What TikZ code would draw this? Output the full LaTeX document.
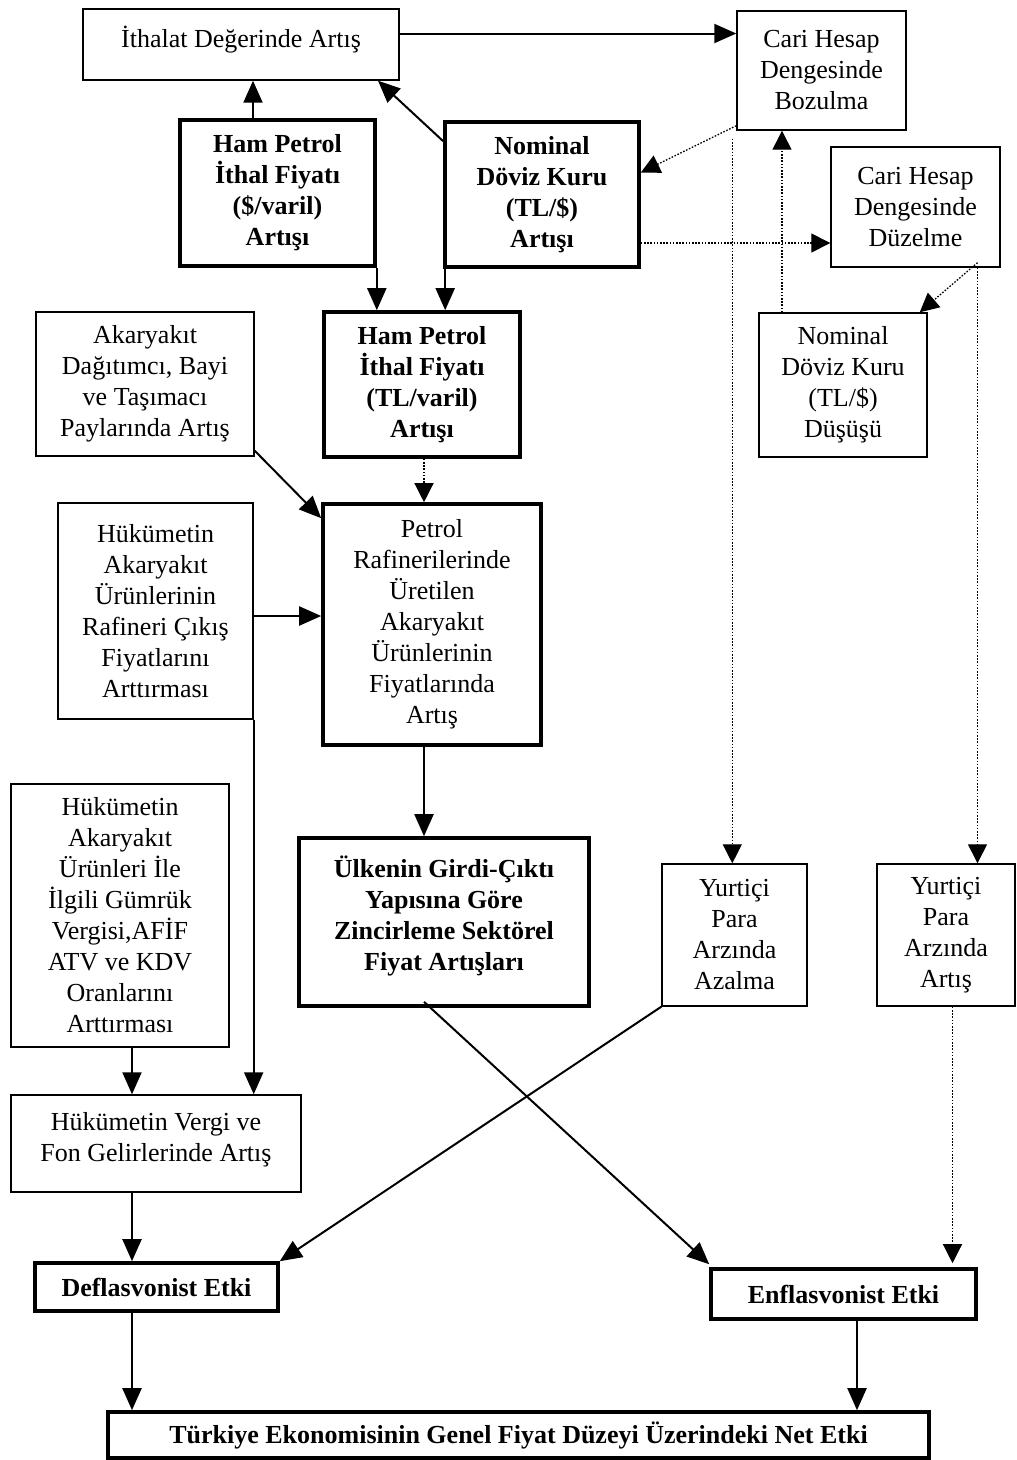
\documentclass[tikz,border=0pt]{standalone}
\usepackage{fontspec}
\setmainfont{Liberation Serif}
\usetikzlibrary{calc,arrows.meta,positioning}
\newcommand{\PicW}{1017}
\newcommand{\PicH}{1460}

\begin{document}
\begin{tikzpicture}[x=1pt,y=-1pt,
  box/.style={draw, line width=1.4pt, align=center, inner sep=2pt, font=\fontsize{26}{31}\selectfont},
  bbox/.style={box, line width=3.6pt, font=\fontsize{26}{31}\selectfont\bfseries},
  arr/.style={-{Triangle[length=22pt,width=19pt]}, line width=2pt},
  darr/.style={-{Triangle[length=19pt,width=19pt]}, line width=1.3pt, dash pattern=on 1.6pt off 1.6pt}
]
\useasboundingbox (0,0) rectangle (\PicW,\PicH);

% ----- Upper block -----
\node[box, minimum width=316, minimum height=71] (ithalat) at (241,44.5) {İthalat Değerinde Artış\\[-16pt]};
\node[box, minimum width=169, minimum height=119] (bozulma) at (821.5,70.5) {Cari Hesap\\Dengesinde\\Bozulma};
\node[bbox, minimum width=195, minimum height=146] (hamdolar) at (277.5,193) {Ham Petrol\\İthal Fiyatı\\(\$/varil)\\Artışı};
\node[bbox, minimum width=194, minimum height=145] (kurartis) at (542,194.5) {Nominal\\Döviz Kuru\\(TL/\$)\\Artışı};
\node[box, minimum width=169, minimum height=120] (duzelme) at (915.5,207) {Cari Hesap\\Dengesinde\\Düzelme};

% ----- Middle block -----
\node[box, minimum width=218, minimum height=144] (akaryakit) at (145,384) {Akaryakıt\\Dağıtımcı, Bayi\\ve Taşımacı\\Paylarında Artış};
\node[bbox, minimum width=196, minimum height=145] (hamtl) at (422,384.5) {Ham Petrol\\İthal Fiyatı\\(TL/varil)\\Artışı};
\node[box, minimum width=168, minimum height=144] (kurdusus) at (843,385) {Nominal\\Döviz Kuru\\(TL/\$)\\Düşüşü};
\node[box, minimum width=195, minimum height=216] (rafcikis) at (155.5,611) {Hükümetin\\Akaryakıt\\Ürünlerinin\\Rafineri Çıkış\\Fiyatlarını\\Arttırması};
\node[box, line width=3.6pt, minimum width=218, minimum height=241] (rafineri) at (432,624.5) {Petrol\\Rafinerilerinde\\Üretilen\\Akaryakıt\\Ürünlerinin\\Fiyatlarında\\Artış};

% ----- Lower block -----
\node[box, minimum width=218, minimum height=263] (gumruk) at (120,915.5) {Hükümetin\\Akaryakıt\\Ürünleri İle\\İlgili Gümrük\\Vergisi,AFİF\\ATV ve KDV\\Oranlarını\\Arttırması};
\node[bbox, minimum width=290, minimum height=168] (zincir) at (444,922) {Ülkenin Girdi-Çıktı\\Yapısına Göre\\Zincirleme Sektörel\\Fiyat Artışları\\[-13pt]};
\node[box, minimum width=145, minimum height=142] (azalma) at (734.5,935) {Yurtiçi\\Para\\Arzında\\Azalma};
\node[box, minimum width=138, minimum height=142] (paraartis) at (946,935) {Yurtiçi\\Para\\Arzında\\Artış};
\node[box, minimum width=290, minimum height=97] (vergi) at (156,1143.5) {Hükümetin Vergi ve\\Fon Gelirlerinde Artış\\[-18pt]};
\node[bbox, minimum width=243, minimum height=48] (deflas) at (156.5,1287) {Deflasvonist Etki};
\node[bbox, minimum width=265, minimum height=50] (enflas) at (843.5,1294) {Enflasvonist Etki};
\node[bbox, minimum width=821, minimum height=46] (netetki) at (518.5,1435) {Türkiye Ekonomisinin Genel Fiyat Düzeyi Üzerindeki Net Etki};

% ===== Solid connectors =====
\draw[arr] ([xshift=-24.5pt]hamdolar.north) -- ([xshift=-24.5pt]hamdolar.north |- ithalat.south);
\draw[arr] ([yshift=-21pt]kurartis.north west) -- ([xshift=137pt]ithalat.south);
\draw[arr] ([yshift=11pt]ithalat.east) -- ([yshift=11pt]ithalat.east -| bozulma.west);
\draw[arr] (hamdolar.south east) -- (hamdolar.south east |- hamtl.north);
\draw[arr] ([xshift=2pt]kurartis.south west) -- ([xshift=2pt]kurartis.south west |- hamtl.north);
\draw[arr] ([yshift=6pt]akaryakit.south east) -- ([yshift=-16pt]rafineri.north west);
\draw[arr] ([yshift=-5pt]rafcikis.east) -- ([yshift=-5pt]rafcikis.east -| rafineri.west);
\draw[arr] ([xshift=-8pt]rafineri.south) -- ([xshift=-8pt]rafineri.south |- zincir.north);
\draw[arr] (rafcikis.south east) -- (rafcikis.south east |- vergi.north);
\draw[arr] ([xshift=12pt]gumruk.south) -- ([xshift=12pt]gumruk.south |- vergi.north);
\draw[arr] ([xshift=-24pt]vergi.south) -- ([xshift=-24pt]vergi.south |- deflas.north);
\draw[arr] ([xshift=-24.5pt]deflas.south) -- ([xshift=-24.5pt]deflas.south |- netetki.north);
\draw[arr] (azalma.south west) -- (deflas.north east);
\draw[arr] ([xshift=-20pt,yshift=6pt]zincir.south) -- ([yshift=3pt]enflas.north west);
\draw[arr] ([xshift=13.5pt]enflas.south) -- ([xshift=13.5pt]enflas.south |- netetki.north);

% ===== Dotted connectors =====
\draw[darr] ([yshift=5pt]bozulma.south west) -- ([yshift=22pt]kurartis.east);
\draw[darr] ([yshift=-48.5pt]kurartis.east) -- ([yshift=-48.5pt]kurartis.east -| duzelme.west);
\draw[darr] ([xshift=-61pt]kurdusus.north) -- ([xshift=-61pt]kurdusus.north |- bozulma.south);
\draw[darr] ([xshift=62pt,yshift=5pt]duzelme.south) -- ([xshift=-8pt]kurdusus.north east);
\draw[darr] ([xshift=-4pt,yshift=-8pt]bozulma.south west) -- ([xshift=-4pt]bozulma.south west |- azalma.north);
\draw[darr] ([xshift=62pt]duzelme.south) -- ([xshift=62pt]duzelme.south |- paraartis.north);
\draw[darr] ([xshift=2pt]hamtl.south) -- ([xshift=2pt]hamtl.south |- rafineri.north);
\draw[darr] ([xshift=6.5pt]paraartis.south) -- ([xshift=6.5pt,yshift=4pt]paraartis.south |- enflas.north);

\end{tikzpicture}
\end{document}
